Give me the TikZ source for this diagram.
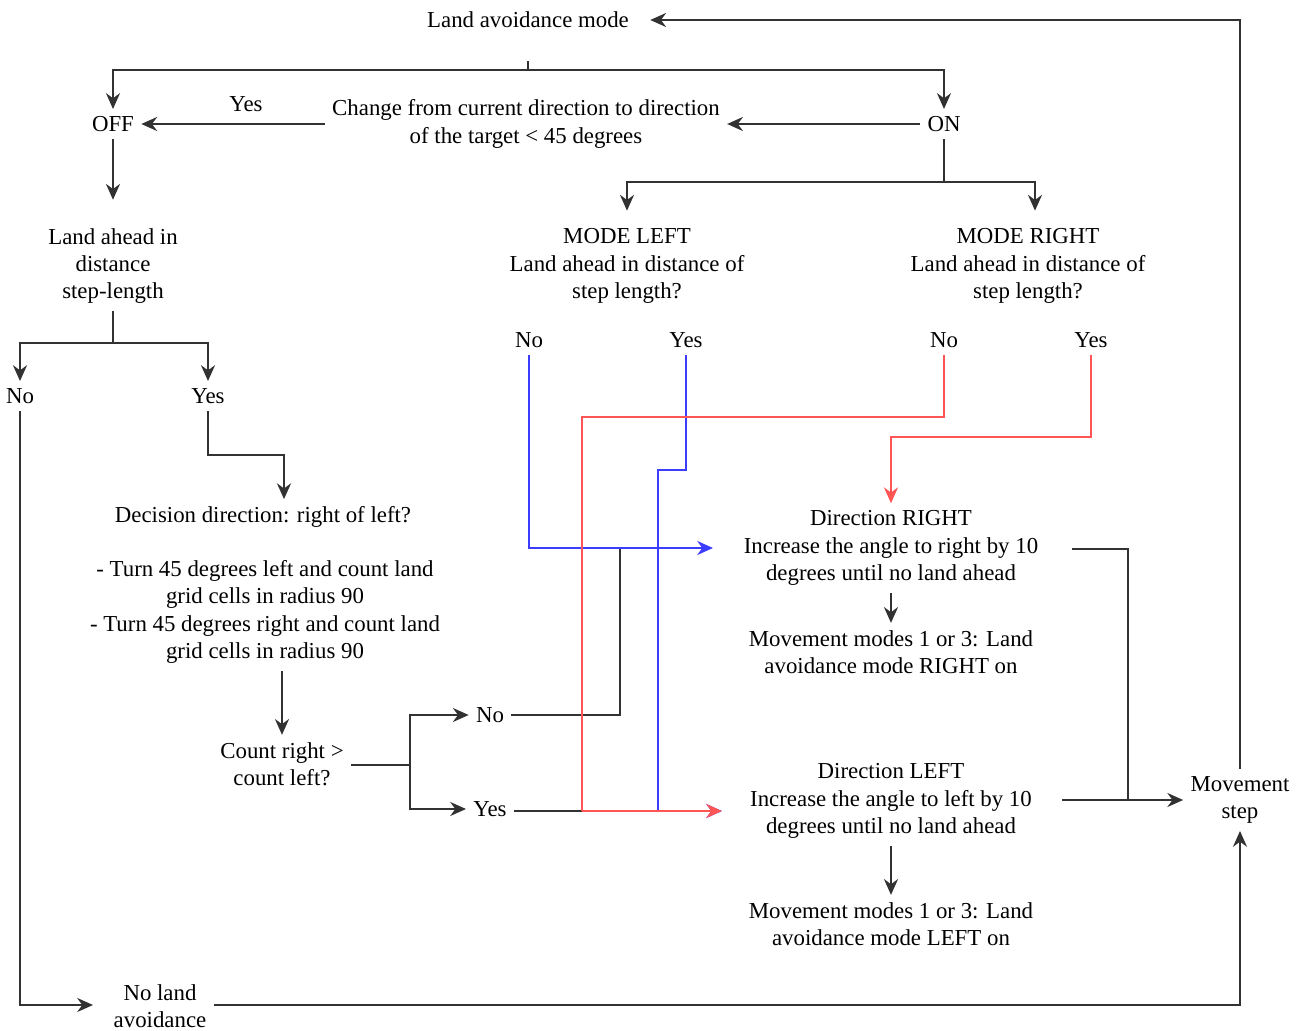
\documentclass[tikz,border=0pt]{standalone}
\usepackage{fontspec}
\setmainfont{Liberation Serif}
\usepackage{xcolor}
\definecolor{flowgray}{RGB}{50,50,50}
\definecolor{flowblue}{RGB}{60,60,255}
\definecolor{flowred}{RGB}{255,85,85}
\usetikzlibrary{arrows.meta,positioning,calc}

\begin{document}
\begin{tikzpicture}[x=0.02cm,y=-0.02cm,
  txt/.style={font=\fontsize{13}{15.6}\selectfont,align=center,inner sep=4pt},
  line/.style={draw=flowgray,line width=1.1pt},
  arr/.style={line,-{Stealth[length=9pt,width=8pt]}},
  blueline/.style={draw=flowblue,line width=1.1pt},
  bluearr/.style={blueline,-{Stealth[length=9pt,width=8pt]}},
  redline/.style={draw=flowred,line width=1.1pt},
  redarr/.style={redline,-{Stealth[length=9pt,width=8pt]}}]
  \useasboundingbox (0,0) rectangle (1303,1031);
  % Top of the chart
  \node[txt] (mode) at (528,20) {Land avoidance mode};
  \node[txt] (off) at (113,124) {OFF};
  \node[txt] (on) at (944,124) {ON};
  \node[txt] (change) at (526,124) {Change from current direction to direction\\of the target < 45 degrees};
  \node[txt] (yes1) at (246,104) {Yes};
  % Second row
  \node[txt] (landoff) at (113,266) {Land ahead in\\distance\\step-length};
  \node[txt] (modeleft) at (627,266) {MODE LEFT\\Land ahead in distance of\\step length?};
  \node[txt] (moderight) at (1028,266) {MODE RIGHT\\Land ahead in distance of\\step length?};
  % Answers
  \node[txt] (no1) at (20,396) {No};
  \node[txt] (yes2) at (208,396) {Yes};
  \node[txt] (noL) at (529,340) {No};
  \node[txt] (yesL) at (686,340) {Yes};
  \node[txt] (noR) at (944,340) {No};
  \node[txt] (yesR) at (1091,340) {Yes};
  % Decision part
  \node[txt] (decision) at (263,517) {Decision direction: right of left?};
  \node[txt] (turns) at (265,612) {- Turn 45 degrees left and count land\\grid cells in radius 90\\- Turn 45 degrees right and count land\\grid cells in radius 90};
  \node[txt] (count) at (282,764) {Count right >\\count left?};
  \node[txt] (no3) at (490,715) {No};
  \node[txt] (yes3) at (490,809) {Yes};
  % Directions
  \node[txt] (dirR) at (891,548) {Direction RIGHT\\Increase the angle to right by 10\\degrees until no land ahead};
  \node[txt] (modesR) at (891,652) {Movement modes 1 or 3: Land\\avoidance mode RIGHT on};
  \node[txt] (dirL) at (891,801) {Direction LEFT\\Increase the angle to left by 10\\degrees until no land ahead};
  \node[txt] (modesL) at (891,924) {Movement modes 1 or 3: Land\\avoidance mode LEFT on};
  \node[txt] (move) at (1240,800) {Movement\\step};
  \node[txt] (noland) at (160,1006) {No land\\avoidance};

  % Junction points
  \coordinate (split) at (528,70);
  \coordinate (onsplit) at (944,182);
  \coordinate (lsplit) at (113,343);
  \coordinate (ybend) at (284,455);
  \coordinate (cfork) at (410,765);
  \coordinate (njoin) at (620,548);
  \coordinate (rjoin) at (582,811);
  \coordinate (rin) at (713,548);
  \coordinate (lin) at (722,811);
  \coordinate (bstep) at (658,470);
  \coordinate (rstep) at (582,417);
  \coordinate (ystep) at (891,437);
  \coordinate (rout) at (1072,549);
  \coordinate (rdown) at (1128,800);
  \coordinate (lout) at (1062,800);
  \coordinate (nin) at (93,1005);

  % Mode on / off
  \draw[line] (mode) ++(0,41) -- (split);
  \draw[arr] (split) -| (off);
  \draw[arr] (split) -| (on);
  \draw[arr] (on.west) -- (on.west -| change.east);
  \draw[arr] (change.west |- off) -- (off.east);
  \draw[arr] (off) -- ([yshift=12pt]landoff.north);
  \draw[line] (on) -- (onsplit);
  \draw[arr] (onsplit) -| ([yshift=6pt]modeleft.north);
  \draw[arr] (onsplit) -| ($([yshift=6pt]moderight.north)+(7,0)$);
  % Mode off branch
  \draw[line] (landoff) -- (lsplit);
  \draw[arr] (lsplit) -| (no1);
  \draw[arr] (lsplit) -| (yes2);
  \draw[arr] (no1) |- (nin);
  \draw[arr] (noland.east |- nin) -| (move);
  \draw[arr] (yes2) |- (ybend) -- (ybend |- decision.north);
  \draw[arr] (turns.south -| count) -- (count);
  \draw[line] (count.east |- cfork) -- (cfork);
  \draw[arr] (cfork) |- (no3);
  \draw[arr] (cfork) |- (yes3);
  \draw[line] (no3.east) -| (njoin);
  \draw[line] (yes3.east |- rjoin) -- (rjoin);
  % Mode on branches
  \draw[bluearr] (noL) |- (rin);
  \draw[bluearr] (yesL) |- (bstep) |- (lin);
  \draw[redline] (noR) |- (rstep) -- (rjoin);
  \draw[redarr] (rjoin) -- (lin);
  \draw[redarr] (yesR) |- (ystep) -- (ystep |- dirR.north);
  % Towards the movement step
  \draw[arr] (dirR) -- (modesR);
  \draw[arr] (dirL) -- (modesL);
  \draw[line] (rout) -| (rdown);
  \draw[arr] (lout) -- (move.west);
  \draw[arr] (move.north) |- ([xshift=8pt]mode.east);
\end{tikzpicture}
\end{document}
